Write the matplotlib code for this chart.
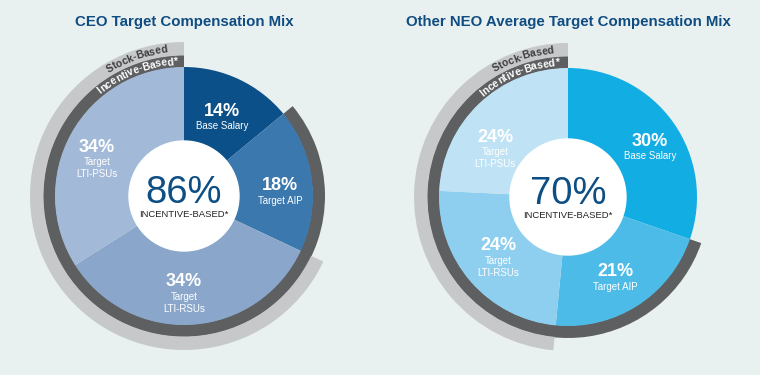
import matplotlib
matplotlib.use("Agg")
import matplotlib.pyplot as plt
import numpy as np
from matplotlib.textpath import TextToPath
from matplotlib.font_manager import FontProperties

# data
pct_labels = ["Base Salary", "Target AIP", "Target\nLTI-RSUs", "Target\nLTI-PSUs"]
ceo_mix = [14, 18, 34, 34]
neo_mix = [30, 21, 24, 24]
ceo_incentive = 86
neo_incentive = 70
ceo_title = "CEO Target Compensation Mix"
neo_title = "Other NEO Average Target Compensation Mix"

# styling
bg = "#e9f1f0"
title_color = "#0f4c81"
dark_ring = "#5e5f61"
light_ring = "#c7c8ca"
ceo_colors = ["#0b5088", "#3b78ae", "#8aa7cb", "#a3b9d8"]
neo_colors = ["#12ade2", "#4dbbe8", "#8ecfef", "#bfe2f5"]

W, H = 760, 375
fig = plt.figure(figsize=(7.6, 3.75), dpi=100)
fig.patch.set_facecolor(bg)
ax = fig.add_axes([0, 0, 1, 1])
ax.set_facecolor(bg)

ttp = TextToPath()
px = 100 / 72.0


def arc_text(cx, cy, s, r, mid_deg, size, color):
    prop = FontProperties(family="Liberation Sans", weight="bold", size=size)
    total = ttp.get_text_width_height_descent(s, prop, ismath=False)[0] * px
    start = np.radians(mid_deg) - total / 2 / r
    for i, ch in enumerate(s):
        pre = ttp.get_text_width_height_descent(s[:i], prop, ismath=False)[0] * px if i else 0
        w = ttp.get_text_width_height_descent(ch, prop, ismath=False)[0] * px
        th = start + (pre + w / 2) / r
        ax.text(cx + r * np.sin(th), cy + r * np.cos(th), ch,
                rotation=-np.degrees(th), rotation_mode="anchor",
                ha="center", va="baseline", fontproperties=prop, color=color)


def draw_chart(cx, cy_px, mix, colors, incentive, title, label_pos, arc_deg, r_hole):
    cy = H - cy_px
    r_pie, r_dark, r_light = 129, 141, 154
    # outer rings: incentive-based (all but base salary), stock-based (LTI only)
    ax.pie([mix[0], sum(mix[1:])], colors=["none", dark_ring], radius=r_dark,
           center=(cx, cy), startangle=90, counterclock=False,
           wedgeprops=dict(width=r_dark - r_pie + 0.5, linewidth=0))
    ax.pie([mix[0] + mix[1], mix[2] + mix[3]], colors=["none", light_ring], radius=r_light,
           center=(cx, cy), startangle=90, counterclock=False,
           wedgeprops=dict(width=r_light - r_dark + 0.5, linewidth=0))
    ax.pie(mix, colors=colors, radius=r_pie, center=(cx, cy), startangle=90,
           counterclock=False, wedgeprops=dict(linewidth=0))
    ax.add_patch(plt.Circle((cx, cy), r_hole, color="white", zorder=3))

    for val, lab, (lx, ly) in zip(mix, pct_labels, label_pos):
        ax.text(lx, H - ly, f"{val}%", ha="center", va="center", color="white",
                fontsize=13, fontweight="bold", family="Liberation Sans", zorder=4)
        for j, line in enumerate(lab.split("\n")):
            ax.text(lx, H - ly - 15 - 12 * j, line, ha="center", va="center",
                    color="white", fontsize=7, family="Liberation Sans", zorder=4)

    # centre figure, baseline just above the caption
    ax.text(cx, cy - 7, f"{incentive}%", ha="center", va="baseline",
            color="#0d4f84", fontsize=27.5, family="Liberation Sans", zorder=4)
    ax.text(cx, cy - 21, "INCENTIVE-BASED*", ha="center", va="baseline",
            color="#222222", fontsize=6.8, family="Liberation Sans", zorder=4)

    ax.text(cx, H - 22, title, ha="center", va="center", color=title_color,
            fontsize=10.8, fontweight="bold", family="Liberation Sans")

    arc_text(cx, cy, "Incentive-Based*", 131.5, arc_deg[0], 7.5, "white")
    arc_text(cx, cy, "Stock-Based", 144.5, arc_deg[1], 7.5, "#3c3c3c")


draw_chart(184, 196, ceo_mix, ceo_colors, ceo_incentive, ceo_title,
           [(222, 111), (280, 186), (184, 282), (97, 147)], (-21, -19), 55)
draw_chart(568, 197, neo_mix, neo_colors, neo_incentive, neo_title,
           [(650, 141), (615, 272), (498, 246), (495, 137)], (-22, -18), 58)

ax.set_xlim(0, W)
ax.set_ylim(0, H)
ax.set_aspect("equal")
ax.axis("off")
fig.savefig("out.png", dpi=100, facecolor=bg)
